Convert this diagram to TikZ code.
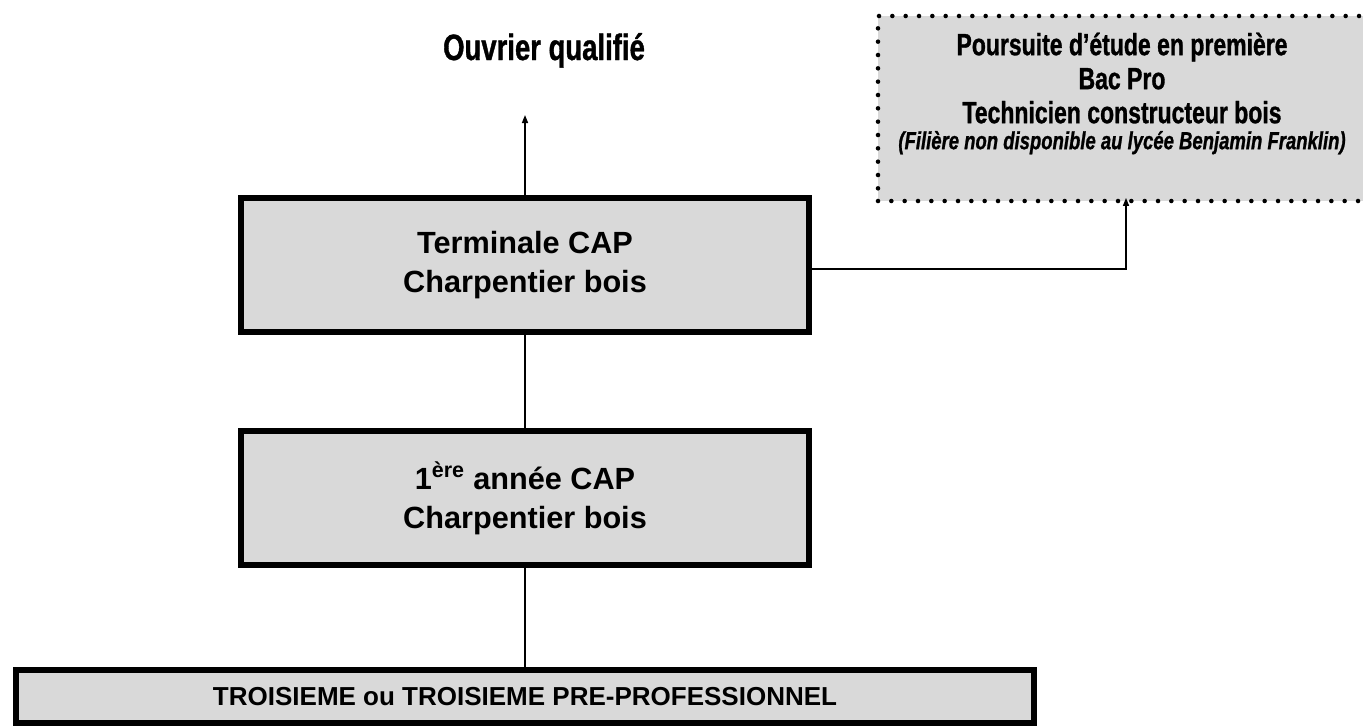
\documentclass[tikz,border=0pt]{standalone}
\usepackage{fontspec}
\setmainfont{Liberation Sans}
\newfontfamily\narrowfont[FakeStretch=0.75, FakeBold=1]{Liberation Sans}
\usetikzlibrary{positioning, arrows.meta}
\definecolor{boxFill}{RGB}{217, 217, 217}
\tikzset{
    cap_box/.style={
        draw=black,
        line width=4.5pt,
        fill=boxFill,
        align=center,
        inner sep=0pt,
        minimum width=426pt,
        minimum height=100.5pt,
        font=\bfseries\fontsize{23}{29.25}\selectfont
    },
    base_box/.style={
        cap_box,
        minimum width=763.5pt,
        minimum height=39.75pt,
        font=\bfseries\fontsize{19.5}{22}\selectfont
    },
    dot_box/.style={
        draw=black,
        line width=3.4pt,
        line cap=round,
        dash pattern=on 0pt off 10pt,
        fill=boxFill,
        inner sep=0pt,
        minimum width=366pt,
        minimum height=138.75pt
    },
    bac_text/.style={
        align=center,
        inner sep=0pt,
        font=\narrowfont\bfseries\fontsize{23}{25.5}\selectfont
    },
    flow_edge/.style={
        line width=1.1pt,
        draw=black
    },
    flow_arrow/.style={
        flow_edge,
        -{Triangle[length=6pt, width=4.5pt]}
    }
}
\begin{document}
\begin{tikzpicture}[x=0.75pt, y=-0.75pt]
    \useasboundingbox (0,0) rectangle (1363,726);

    % boxes
    \node[cap_box] (term) at (525,265) {Terminale CAP\\Charpentier bois};
    \node[cap_box] (annee) at (525,498) {1\textsuperscript{ère} année CAP\\Charpentier bois};
    \node[base_box] (troisieme) at (525,696.5) {TROISIEME ou TROISIEME PRE-PROFESSIONNEL};

    \node[dot_box] (bacpro) at (1122,108.5) {};
    \node[bac_text, below=14pt of bacpro.north] (bacproText)
        {Poursuite d’étude en première\\Bac Pro\\Technicien constructeur bois\\[-6pt]
         {\fontsize{18.5}{25.5}\selectfont\itshape (Filière non disponible au lycée Benjamin Franklin)}};

    \node[anchor=base, font=\narrowfont\bfseries\fontsize{27.5}{30}\selectfont] (ouvrier) at (544,60) {Ouvrier qualifié};
    \coordinate (ouvrierTip) at (525,115);

    % connectors
    \draw[flow_arrow] (term.north) -- (ouvrierTip);
    \draw[flow_edge] (term.south) -- (annee.north);
    \draw[flow_edge] (annee.south) -- (troisieme.north);
    \draw[flow_arrow] ([yshift=-3pt]term.east) -| ([xshift=3pt, yshift=4pt]bacpro.south);
\end{tikzpicture}
\end{document}
